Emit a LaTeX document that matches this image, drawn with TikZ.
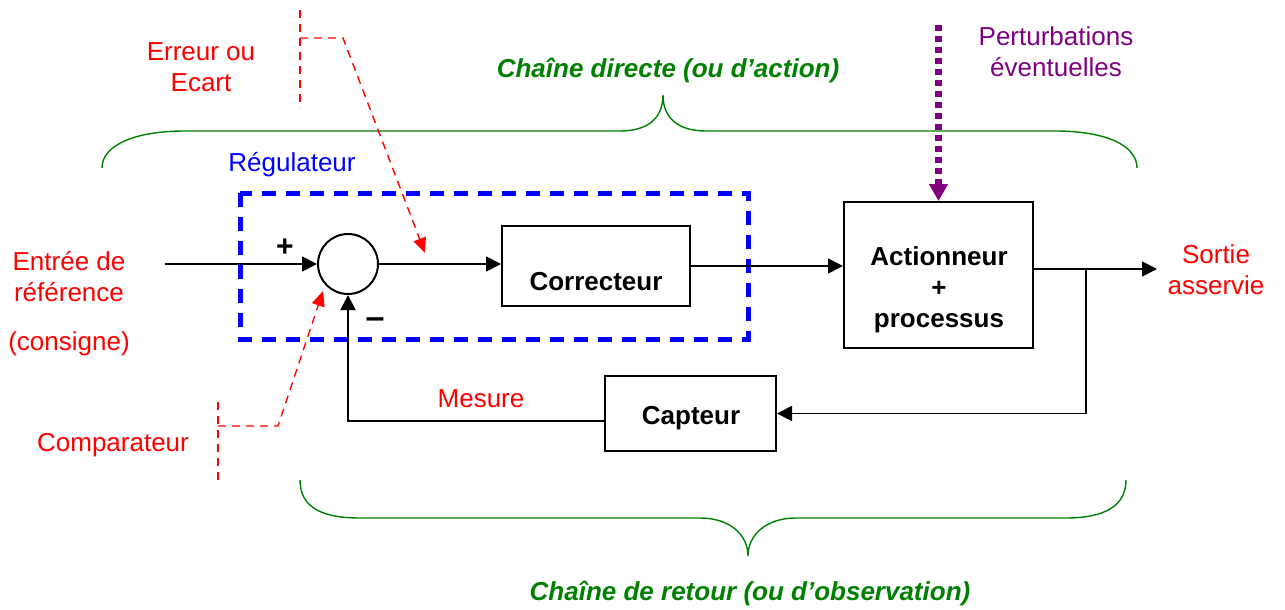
\documentclass[tikz,border=0pt]{standalone}
\usepackage{fontspec}
\setmainfont{Liberation Sans}
\usetikzlibrary{arrows.meta,calc}
\definecolor{chaingreen}{RGB}{0,128,0}
\definecolor{pertpurple}{RGB}{128,0,128}
\tikzset{
  blockbox/.style={draw=black, line width=1pt, rectangle, inner sep=0pt},
  sumnode/.style={draw=black, line width=1pt, circle, minimum size=30pt, inner sep=0pt},
  boldtxt/.style={font=\fontsize{13}{15.5}\selectfont\bfseries, align=center, inner sep=0pt},
  redtxt/.style={text=red, align=center, inner sep=0pt},
  sig/.style={draw=black, line width=0.9pt, -{Triangle[length=7.5pt,width=7.5pt]}},
  pointer/.style={draw=red, line width=0.7pt, dash pattern=on 4pt off 3pt},
  pointerarrow/.style={pointer, -{Triangle[length=7.5pt,width=6.5pt]}},
  brace/.style={draw=chaingreen, line width=0.7pt},
  chaintitle/.style={text=chaingreen, font=\fontsize{13}{15.5}\selectfont\bfseries\itshape, inner sep=0pt},
  regbox/.style={draw=blue, line width=2.5pt, dash pattern=on 7pt off 5pt},
  disturb/.style={draw=pertpurple, line width=3.5pt, dash pattern=on 3pt off 2.5pt, -{Triangle[length=8.5pt,width=9pt]}},
}
\begin{document}
\begin{tikzpicture}[x=0.5pt, y=-0.5pt, font=\fontsize{13}{15.5}\selectfont]
\useasboundingbox (0,0) rectangle (1285,610);

% Braces grouping the two chains
\draw[brace] (102,168) .. controls (102,145) and (135,131) .. (185,131) -- (620,131)
  .. controls (648,131) and (663,118) .. (663,95)
  .. controls (663,118) and (678,131) .. (706,131) -- (1055,131)
  .. controls (1105,131) and (1137,145) .. (1137,168);
\draw[brace] (300,480) .. controls (300,505) and (318,518) .. (360,518) -- (700,518)
  .. controls (730,518) and (748,535) .. (748,556)
  .. controls (748,535) and (766,518) .. (796,518) -- (1066,518)
  .. controls (1106,518) and (1126,505) .. (1126,480);
\node[chaintitle] (direct) at (668,70) {Chaîne directe (ou d’action)};
\node[chaintitle] (retour) at (750,593) {Chaîne de retour (ou d’observation)};

% Regulator frame
\draw[regbox] (240,193) rectangle (748,339);
\node[text=blue, inner sep=0pt] (reglbl) at (292,165) {Régulateur};

% Blocks
\node[sumnode] (sum) at (348,264) {};
\node[blockbox, minimum width=94pt, minimum height=40pt] (corr) at (596,266) {};
\node[boldtxt] (corrlbl) at (596,282) {Correcteur};
\node[blockbox, minimum width=94.5pt, minimum height=73pt] (act) at (938.5,275) {};
\node[boldtxt] (actlbl) at (939,290) {Actionneur\\+\\processus};
\node[blockbox, minimum width=85.5pt, minimum height=37.5pt] (capt) at (690.5,413.5) {};
\node[boldtxt] (captlbl) at (691,418) {Capteur};

% Signs at the comparator
\node[boldtxt, font=\fontsize{15}{18}\selectfont\bfseries] (plus) at (285,248) {+};
\node[boldtxt, font=\fontsize{17}{18}\selectfont\bfseries] (minus) at (375,323) {–};

% Signal paths
\coordinate (in) at (165,264);
\coordinate (out) at (1157,269);
\coordinate (tap) at (1086,269);
\coordinate (fbl) at (348,421);
\draw[sig] (in) -- (sum.west);
\draw[sig] (sum.east) -- (sum.east -| corr.west);
\draw[sig] (corr.east) -- (corr.east -| act.west);
\draw[sig] (act.east |- out) -- (out);
\draw[sig] (tap) |- (capt.east);
\draw[sig] (capt.west |- fbl) -| (sum.south);

% Disturbance
\coordinate (pert) at (938.5,25);
\draw[disturb] (pert) -- (act.north);
\node[text=pertpurple, align=center, inner sep=0pt] (pertlbl) at (1056,52) {Perturbations\\éventuelles};

% Labels
\node[redtxt] (entree) at (69,304) {Entrée de\\référence\\[9pt](consigne)};
\node[redtxt] (sortie) at (1216,270) {Sortie\\asservie};
\node[redtxt] (mesure) at (481,399) {Mesure};
\node[redtxt] (erreur) at (201,67) {Erreur ou\\Ecart};
\node[redtxt] (compar) at (113,445) {Comparateur};

% Pointer for the error
\coordinate (e1) at (300,10);
\coordinate (e2) at (300,108);
\coordinate (e3) at (300,38);
\coordinate (e4) at (343,38);
\coordinate (e5) at (425,253);
\draw[pointer] (e1) -- (e2);
\draw[pointerarrow] (e3) -- (e4) -- (e5);

% Pointer for the comparator
\coordinate (c1) at (218,402);
\coordinate (c2) at (218,480);
\coordinate (c3) at (218,426);
\coordinate (c4) at (278,426);
\coordinate (c5) at (323,291);
\draw[pointer] (c1) -- (c2);
\draw[pointerarrow] (c3) -- (c4) -- (c5);
\end{tikzpicture}
\end{document}
